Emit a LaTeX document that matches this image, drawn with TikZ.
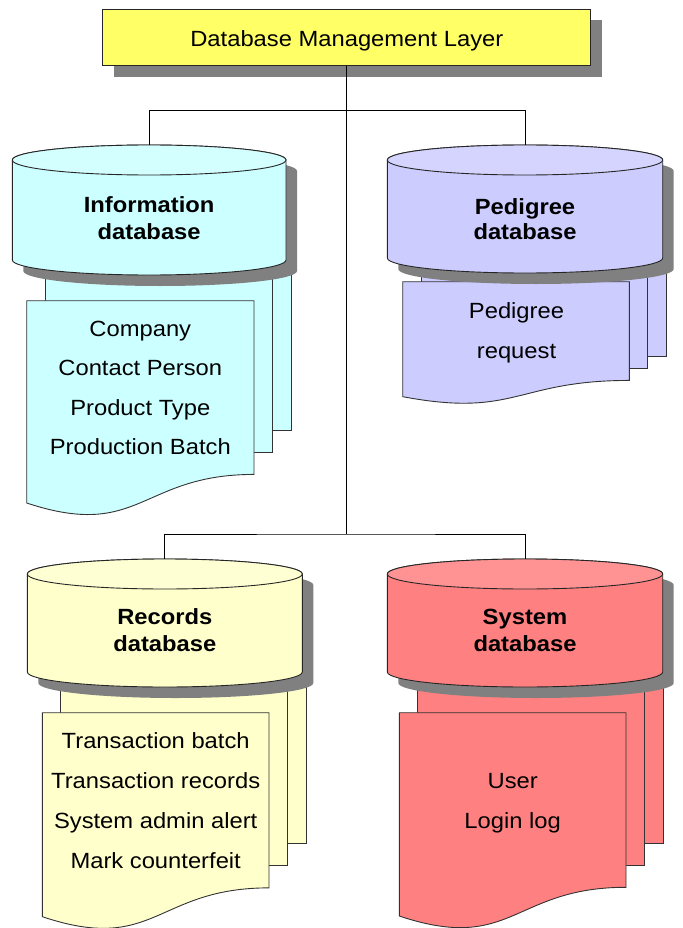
\documentclass[tikz,border=0pt]{standalone}
\usepackage{fontspec}
\setmainfont{Liberation Sans}[FakeStretch=1.08]
\usetikzlibrary{shadows}
\definecolor{titlefill}{RGB}{255,255,102}
\definecolor{shadowgray}{RGB}{128,128,128}
\definecolor{infofill}{RGB}{204,255,255}
\definecolor{pedfill}{RGB}{204,204,255}
\definecolor{recfill}{RGB}{255,255,204}
\definecolor{sysfill}{RGB}{255,128,128}
\tikzset{
  canline/.style={draw=black!85, line width=0.9pt},
  docline/.style={draw=black!80, line width=0.9pt},
  conn/.style={draw=black, line width=0.9pt},
  doctext/.style={font=\fontsize{22}{26}\selectfont, anchor=base, inner sep=0pt},
  cantext/.style={font=\fontsize{22}{26}\selectfont\bfseries, anchor=base, inner sep=0pt},
}
% cylinder: left right top bottom colour
\newcommand\dbcan[5]{%
  \pgfmathsetmacro\cx{(#1+#2)/2}%
  \pgfmathsetmacro\rx{(#2-#1)/2}%
  \pgfmathsetmacro\yt{-(#3+15)}%
  \pgfmathsetmacro\yb{-(#4-15)}%
  \fill[shadowgray, shift={(11,-11)}] (#1,\yt) -- (#1,\yb)
     arc[start angle=180, end angle=360, x radius=\rx, y radius=15]
     -- (#2,\yt) arc[start angle=0, end angle=180, x radius=\rx, y radius=15] -- cycle;
  \draw[canline, fill=#5] (#1,\yt) -- (#1,\yb)
     arc[start angle=180, end angle=360, x radius=\rx, y radius=15]
     -- (#2,\yt) arc[start angle=0, end angle=180, x radius=\rx, y radius=15] -- cycle;
  \draw[canline, fill=#5!85!white] (\cx,\yt) ellipse[x radius=\rx, y radius=15];
}
% multi-document: left right top height dx dy colour
\newcommand\dbdoc[7]{%
  \pgfmathsetmacro\yR{#3+0.802*#4}%
  \pgfmathsetmacro\yL{#3+0.934*#4}%
  \pgfmathsetmacro\yC{#3+1.1075*#4}%
  \pgfmathsetmacro\xm{(#1+#2)/2}%
  \draw[docline, fill=#7] ({#1+2*#5},{-(#3-2*#6)}) rectangle ({#2+2*#5},{-(\yR-2*#6)});
  \draw[docline, fill=#7] ({#1+#5},{-(#3-#6)}) rectangle ({#2+#5},{-(\yR-#6)});
  \draw[docline, fill=#7] (#1,-#3) -- (#2,-#3) -- (#2,-\yR)
     .. controls (\xm,-\yR) and (\xm,-\yC) .. (#1,-\yL) -- cycle;
}
\begin{document}
\begin{tikzpicture}[x=1pt, y=1pt]
\useasboundingbox (0,0) rectangle (682,-928);

% title box
\node[draw=black!85, line width=0.9pt, fill=titlefill,
      minimum width=488pt, minimum height=56.4pt, inner sep=0pt,
      text height=18.4pt, text depth=0pt,
      font=\fontsize{22}{26}\selectfont,
      drop shadow={shadow xshift=11pt, shadow yshift=-11pt, fill=shadowgray, opacity=1}]
  (title) at (346.85,-37.5) {Database Management Layer};

% documents (behind cylinders)
\dbdoc{26.7}{254}{300.7}{216.6}{18.5}{22}{infofill}
\dbdoc{402.7}{629.3}{281.7}{123.1}{18.5}{12}{pedfill}
\dbdoc{42.3}{269}{712.7}{218.4}{18.5}{22}{recfill}
\dbdoc{399.3}{626}{712.7}{217.7}{18.5}{22}{sysfill}

% cylinders
\dbcan{12.3}{286}{145}{275}{infofill}
\dbcan{387.3}{662.7}{145}{273}{pedfill}
\dbcan{27.3}{302.3}{559}{687}{recfill}
\dbcan{387.3}{662.7}{559}{687}{sysfill}

% connector points
\coordinate (infotop) at (149.15,-145);
\coordinate (pedtop) at (525,-145);
\coordinate (rectop) at (164.8,-559);
\coordinate (systop) at (525,-559);
\coordinate (j1) at (346.85,-110.7);
\coordinate (j2) at (346.85,-534);

\draw[conn] (title.south) -- (j2);
\draw[conn] (infotop) |- (j1) -| (pedtop);
\draw[conn] (rectop) |- (j2) -| (systop);

% cylinder labels
\node[cantext] (infoA) at (149.15,-212.7) {Information};
\node[cantext] (infoB) at (149.15,-239.5) {database};
\node[cantext] (pedA) at (525,-214) {Pedigree};
\node[cantext] (pedB) at (525,-239.5) {database};
\node[cantext] (recA) at (164.8,-624) {Records};
\node[cantext] (recB) at (164.8,-651.5) {database};
\node[cantext] (sysA) at (525,-624) {System};
\node[cantext] (sysB) at (525,-651.5) {database};

% document texts
\node[doctext] (inf1) at (140.3,-336) {Company};
\node[doctext] (inf2) at (140.3,-375.5) {Contact Person};
\node[doctext] (inf3) at (140.3,-415) {Product Type};
\node[doctext] (inf4) at (140.3,-454.5) {Production Batch};

\node[doctext] (ped1) at (516.5,-318.3) {Pedigree};
\node[doctext] (ped2) at (516.5,-358.3) {request};

\node[doctext] (rec1) at (155.7,-748.3) {Transaction batch};
\node[doctext] (rec2) at (155.7,-788.3) {Transaction records};
\node[doctext] (rec3) at (155.7,-828.3) {System admin alert};
\node[doctext] (rec4) at (155.7,-868.3) {Mark counterfeit};

\node[doctext] (sys1) at (512.7,-788.3) {User};
\node[doctext] (sys2) at (512.7,-828.3) {Login log};
\end{tikzpicture}
\end{document}
